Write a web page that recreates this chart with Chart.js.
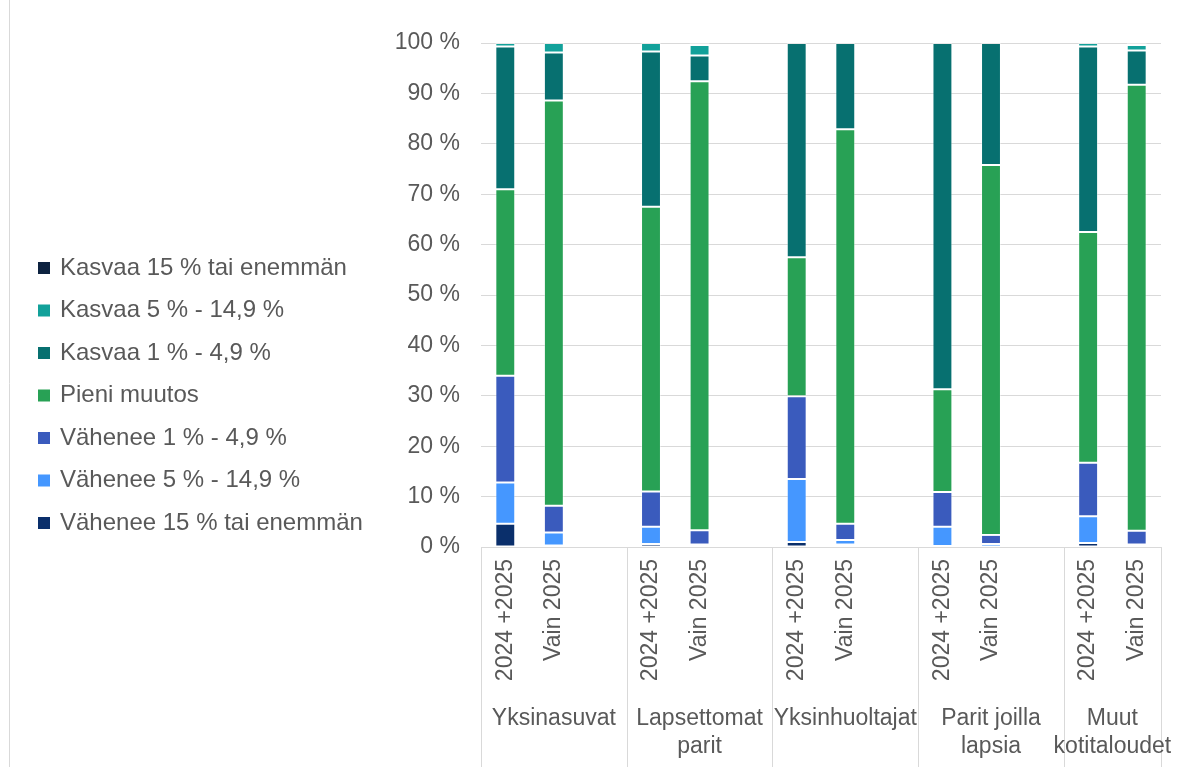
<!DOCTYPE html>
<html lang="fi">
<head>
<meta charset="utf-8">
<title>Kotitaloudet – muutos</title>
<script src="https://cdn.jsdelivr.net/npm/chart.js@4.4.1/dist/chart.umd.min.js"></script>
<style>
  html, body { margin: 0; padding: 0; background: #ffffff; }
  #wrap { width: 1180px; height: 767px; }
</style>
</head>
<body>
<div id="wrap"><canvas id="c" width="1180" height="767"></canvas></div>
<script>
// Bar labels: two bars per household type, an empty slot separates the groups
const barLabels = [
  '2024 +2025', 'Vain 2025', '',
  '2024 +2025', 'Vain 2025', '',
  '2024 +2025', 'Vain 2025', '',
  '2024 +2025', 'Vain 2025', '',
  '2024 +2025', 'Vain 2025'
];

// Household types and the category index range each one covers
const groupNames = [['Yksinasuvat'], ['Lapsettomat', 'parit'], ['Yksinhuoltajat'], ['Parit joilla', 'lapsia'], ['Muut', 'kotitaloudet']];
const groupSpans = [[0, 2], [3, 5], [6, 8], [9, 11], [12, 13]];

// Shares (%) per change class, bottom of the stack first
const vahenee15 = [4.6, 0.3, null, 0.6, 0.2, null, 1.0, 0.5, null, 0.2, 0, null, 0.8, 0];
const vahenee5  = [8.2, 2.6, null, 3.4, 0.3, null, 12.5, 0.9, null, 3.8, 0.6, null, 5.3, 0.5];
const vahenee1  = [21.2, 5.3, null, 7.0, 2.8, null, 16.4, 3.2, null, 6.9, 1.8, null, 10.6, 2.7];
const pieni     = [37.0, 80.4, null, 56.5, 89.1, null, 27.6, 78.3, null, 20.4, 73.4, null, 45.8, 88.5];
const kasvaa1   = [28.3, 9.5, null, 30.8, 5.1, null, 42.5, 17.1, null, 68.7, 24.2, null, 36.8, 6.8];
const kasvaa5   = [0.7, 1.9, null, 1.7, 2.1, null, 0, 0, null, 0, 0, null, 0.7, 1.1];
const kasvaa15  = [0, 0, null, 0, 0.4, null, 0, 0, null, 0, 0, null, 0, 0.4];

const seriesNames = [
  'Vähenee 15 % tai enemmän', 'Vähenee 5 % - 14,9 %', 'Vähenee 1 % - 4,9 %',
  'Pieni muutos', 'Kasvaa 1 % - 4,9 %', 'Kasvaa 5 % - 14,9 %', 'Kasvaa 15 % tai enemmän'
];
const seriesData = [vahenee15, vahenee5, vahenee1, pieni, kasvaa1, kasvaa5, kasvaa15];
const seriesColors = ['#0a2f6b', '#4597ff', '#3a5bbd', '#28a155', '#077070', '#12a19a', '#0d2240'];

const FONT = '"Liberation Sans", Arial, sans-serif';
const TEXT = '#595959';
const GRID = '#d9d9d9';
const PAD_LEFT = 21.5;
const PLOT_LEFT = 481;

// Household type captions and separators under the bar labels
const groupAxis = {
  id: 'groupAxis',
  afterDraw(chart) {
    const { ctx, chartArea } = chart;
    const x = chart.scales.x;
    const half = (x.getPixelForValue(1) - x.getPixelForValue(0)) / 2;
    ctx.save();
    ctx.strokeStyle = GRID;
    ctx.lineWidth = 1;
    const edges = [x.getPixelForValue(0) - half];
    groupSpans.forEach(([a, b]) => edges.push(x.getPixelForValue(b) + half));
    edges.forEach(px => {
      const xx = Math.round(px) + 0.5;
      ctx.beginPath();
      ctx.moveTo(xx, chartArea.bottom);
      ctx.lineTo(xx, chart.height);
      ctx.stroke();
    });
    ctx.beginPath();
    ctx.moveTo(9.5, 0);
    ctx.lineTo(9.5, chart.height);
    ctx.stroke();

    ctx.fillStyle = TEXT;
    ctx.font = '23px ' + FONT;
    ctx.textAlign = 'center';
    ctx.textBaseline = 'middle';
    groupSpans.forEach(([a, b], i) => {
      const cx = ((x.getPixelForValue(a) - half) + (x.getPixelForValue(b) + half)) / 2;
      groupNames[i].forEach((line, j) => {
        ctx.fillText(line, cx, chartArea.bottom + 172 + j * 28);
      });
    });
    ctx.restore();
  }
};

new Chart(document.getElementById('c'), {
  type: 'bar',
  data: {
    labels: barLabels,
    datasets: seriesNames.map((name, i) => ({
      label: name,
      data: seriesData[i],
      backgroundColor: seriesColors[i],
      borderColor: 'rgba(255,255,255,0.4)',
      borderWidth: 1,
      borderSkipped: false,
      barPercentage: 0.41,
      categoryPercentage: 1.0
    }))
  },
  options: {
    responsive: false,
    devicePixelRatio: 1,
    animation: false,
    layout: { padding: { left: PAD_LEFT, right: 19, top: 43, bottom: 19 } },
    plugins: {
      tooltip: { enabled: false },
      legend: {
        position: 'left',
        reverse: true,
        maxWidth: 420,
        labels: {
          color: TEXT,
          font: { family: FONT, size: 24 },
          boxWidth: 8,
          boxHeight: 8,
          padding: 18.5,
          // small swatch widened by a same-coloured outline
          generateLabels(chart) {
            const items = Chart.defaults.plugins.legend.labels.generateLabels(chart);
            items.forEach(it => { it.strokeStyle = it.fillStyle; it.lineWidth = 4; });
            return items;
          }
        }
      }
    },
    scales: {
      x: {
        stacked: true,
        grid: { display: false, drawTicks: false },
        border: { display: false },
        ticks: {
          autoSkip: false,
          minRotation: 90,
          maxRotation: 90,
          padding: 12,
          color: TEXT,
          font: { family: FONT, size: 23 }
        },
        afterFit(scale) { scale.height = 201; }
      },
      y: {
        stacked: true,
        min: 0,
        max: 100,
        grid: { color: GRID, lineWidth: 1, drawTicks: false },
        border: { display: false },
        ticks: {
          stepSize: 10,
          padding: 21,
          color: TEXT,
          font: { family: FONT, size: 23 },
          callback: v => v + ' %'
        },
        afterFit(scale) {
          const lw = scale.chart.legend ? scale.chart.legend.width : 345;
          scale.width = PLOT_LEFT - PAD_LEFT - lw;
        }
      }
    }
  },
  plugins: [groupAxis]
});
</script>
</body>
</html>
